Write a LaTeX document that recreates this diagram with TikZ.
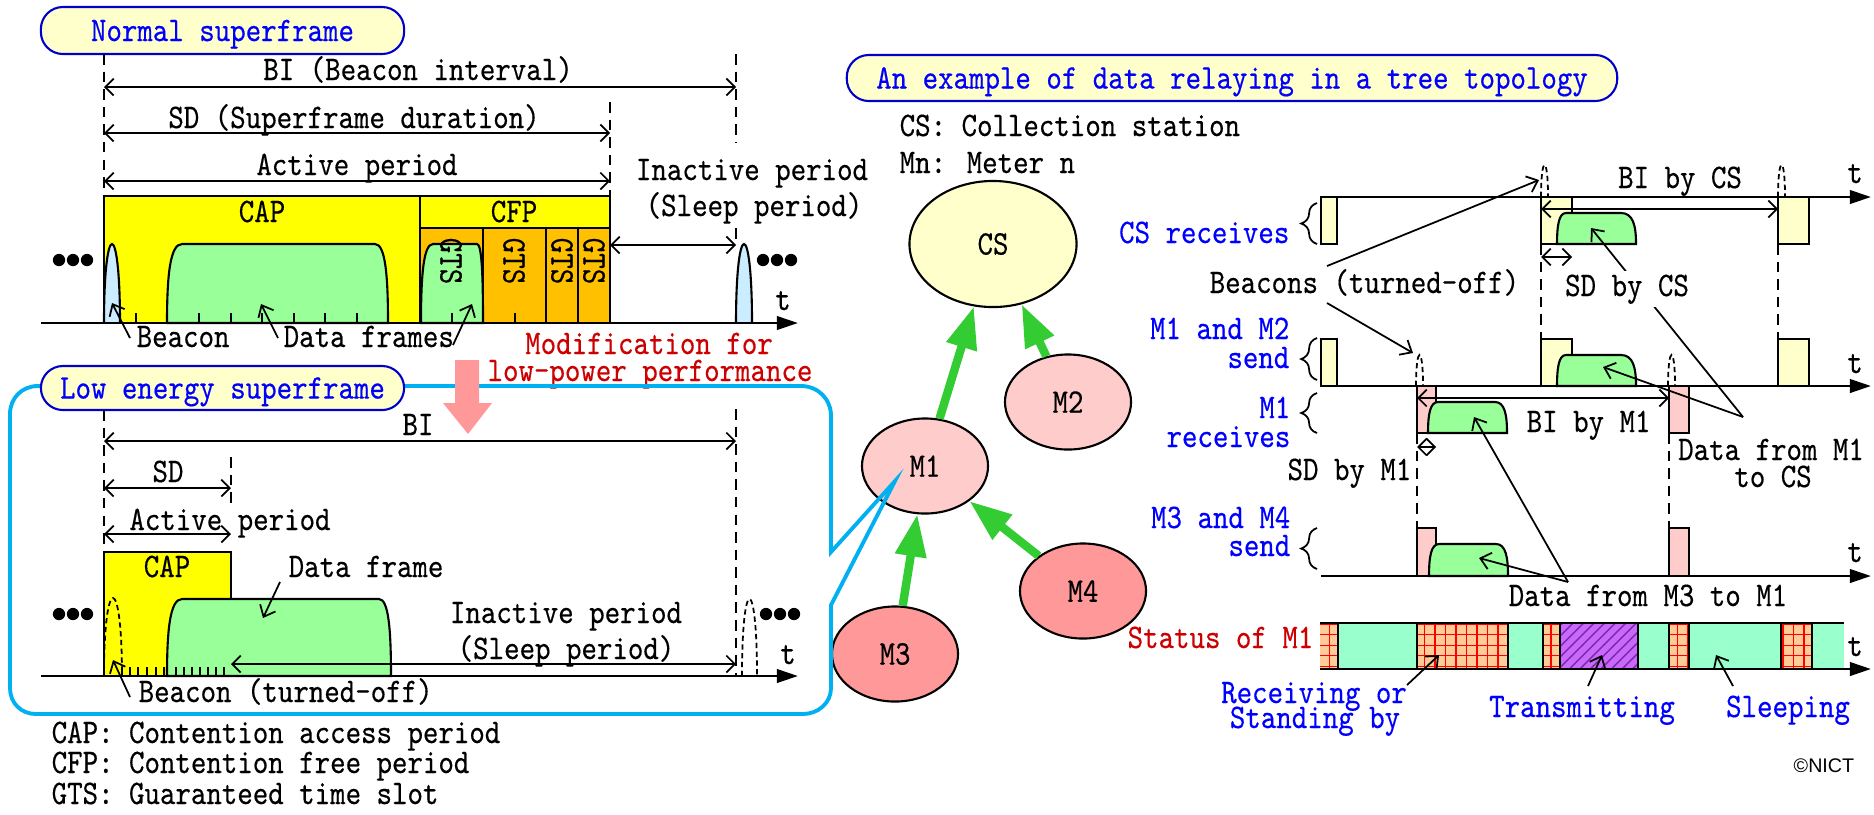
\documentclass[tikz,border=0pt]{standalone}
\usepackage{fontspec}
\newfontfamily\slimtt{lmmono10-regular.otf}[FakeStretch=0.855, FakeBold=0.4]
\newfontfamily\nictfont{Liberation Sans}
\usetikzlibrary{arrows.meta, shapes.geometric, decorations.pathreplacing, patterns}

\definecolor{bubblefill}{HTML}{FFFFCC}
\definecolor{bubbleline}{HTML}{0000CC}
\definecolor{labelblue}{HTML}{0000FF}
\definecolor{labelred}{HTML}{CC0000}
\definecolor{capyellow}{HTML}{FFFF00}
\definecolor{gtsorange}{HTML}{FFC000}
\definecolor{datagreen}{HTML}{99FF99}
\definecolor{beaconblue}{HTML}{CCECFF}
\definecolor{shiftpink}{HTML}{FF9999}
\definecolor{framecyan}{HTML}{00B0F0}
\definecolor{relaygreen}{HTML}{33CC33}
\definecolor{meterpink}{HTML}{FFCCCC}
\definecolor{meterred}{HTML}{FF9999}
\definecolor{listenbase}{HTML}{FFCC99}
\definecolor{sleepcyan}{HTML}{99FFCC}
\definecolor{sendviolet}{HTML}{CC66FF}
\definecolor{sendstripe}{HTML}{7030A0}

\tikzset{
	every node/.style={font=\slimtt\fontsize{9.8}{10}\selectfont, inner sep=0pt}, % narrow mono spaced text
	bubble/.style={draw=bubbleline, fill=bubblefill, line width=0.6pt, rounded corners=2.2mm, text=labelblue, text height=6pt, text depth=0pt}, % yellow titles with round ends
	dim/.style={{Straight Barb[length=2.4pt,width=4.8pt]}-{Straight Barb[length=2.4pt,width=4.8pt]}, line width=0.5pt}, % length arrows
	lead/.style={-{Straight Barb[length=2.8pt,width=4.8pt]}, line width=0.5pt}, % arrows from the labels
	timeaxis/.style={line width=0.8pt, -{Triangle[length=6pt,width=3.8pt]}},
	guide/.style={dash pattern=on 3pt off 2pt, line width=0.5pt},
	ghost/.style={dash pattern=on 1.5pt off 1pt, line width=0.5pt}, % turned-off beacons
	axistick/.style={line width=0.5pt},
	capbox/.style={draw, fill=capyellow, line width=0.6pt},
	gtsbox/.style={draw, fill=gtsorange, line width=0.6pt},
	csbox/.style={draw, fill=bubblefill, line width=0.6pt},
	m1box/.style={draw, fill=meterpink, line width=0.6pt},
	datashape/.style={draw, fill=datagreen, line width=0.6pt},
	beaconshape/.style={draw, fill=beaconblue, line width=0.6pt},
	rowbrace/.style={decorate, decoration={brace, amplitude=4.5pt}, line width=0.5pt},
	meter/.style={ellipse, draw, line width=0.6pt, minimum width=1.26cm, minimum height=0.95cm},
	relay/.style={draw=relaygreen, line width=2.4pt, -{Triangle[length=12pt,width=8.5pt]}},
	listenseg/.style={fill=listenbase, postaction={pattern=grid, pattern color=red}},
	sleepseg/.style={fill=sleepcyan},
	sendseg/.style={fill=sendviolet, postaction={pattern=north east lines, pattern color=sendstripe}},
}

% left, right, top, bottom, left bend, right bend
\newcommand{\dataframe}[6]{\draw[datashape] (#1,#4) .. controls (#1,{#3+0.4*(#4-#3)}) and ({#1+0.2*#5},#3) .. ({#1+#5},#3)
	-- ({#2-#6},#3) .. controls ({#2-0.2*#6},#3) and (#2,{#3+0.4*(#4-#3)}) .. (#2,#4) -- cycle;}
% left, right, top, bottom
\newcommand{\beaconpulse}[5][beaconshape]{\draw[#1] (#2,#5) .. controls (#2,{#5-(#5-#4)/0.75}) and (#3,{#5-(#5-#4)/0.75}) .. (#3,#5);}

\begin{document}
\begin{tikzpicture}[x=0.01cm, y=-0.01cm]
	\useasboundingbox (0,0) rectangle (1874,814);

	\node[bubble, minimum width=3.63cm, minimum height=0.47cm] (normal) at (222.5,30.5) {Normal superframe};
	\draw[guide] (104,54) -- (104,196);
	\draw[guide] (736,54) -- (736,143);
	\draw[guide] (736,228) -- (736,244);
	\draw[guide] (610,102) -- (610,196);
	\draw[dim] (104,87) -- (736,87);
	\node[anchor=base] (bi) at (418,80) {BI (Beacon interval)};
	\draw[dim] (104,133) -- (610,133);
	\node[anchor=base] (sd) at (354,128) {SD (Superframe duration)};
	\draw[dim] (104,181) -- (610,181);
	\node[anchor=base] (active) at (357,175) {Active period};
	\node[anchor=base] (inactive1) at (752,180) {Inactive period};
	\node[anchor=base] (inactive2) at (754,216) {(Sleep period)};
	\draw[capbox] (104,196) rectangle (420,323);
	\draw[capbox] (420,196) rectangle (610,228);
	\foreach \xa/\xb in {420/483,483/546,546/578,578/610} \draw[gtsbox] (\xa,228) rectangle (\xb,323);
	\node[anchor=base] (cap) at (262,222) {CAP};
	\node[anchor=base] (cfp) at (514,222) {CFP};
	\dataframe{167}{388}{244}{323}{15}{13}
	\dataframe{421}{483}{244}{323}{12}{6}
	\foreach \x in {451,514,562,594} \node[rotate=-90] (gts\x) at (\x,261) {GTS};
	\beaconpulse{104}{120}{244}{323}
	\beaconpulse{736}{752}{244}{323}
	\foreach \x in {136,199,231,262,294,325,357,452,515} \draw[axistick] (\x,313) -- (\x,323);
	\draw[dim] (610,245) -- (736,245);
	\draw[timeaxis] (41,323) -- (798,323);
	\node[anchor=base] (tup) at (783,310) {t};
	\foreach \x in {59,73,87,763,777,791} \fill (\x,260) circle (1.75pt);
	\node[anchor=base west] (beacon) at (136,347) {Beacon};
	\node[anchor=base west] (dataframes) at (283,347) {Data frames};
	\coordinate (beacontail) at (130,338);
	\coordinate (beaconhead) at (112,303);
	\coordinate (datatail1) at (278,338);
	\coordinate (datahead1) at (261,304);
	\coordinate (datatail2) at (453,345);
	\coordinate (datahead2) at (472,304);
	\draw[lead] (beacontail) -- (beaconhead);
	\draw[lead] (datatail1) -- (datahead1);
	\draw[lead] (datatail2) -- (datahead2);
	\node[anchor=base, text=labelred] (modif1) at (649,354) {Modification for};
	\node[anchor=base, text=labelred] (modif2) at (650,381) {low-power performance};

	\node[meter, fill=bubblefill, minimum width=1.67cm, minimum height=1.26cm] (cs) at (993,244) {CS};
	\node[meter, fill=meterpink] (m1) at (925,466) {M1};
	\node[meter, fill=meterpink] (m2) at (1068,402) {M2};
	\node[meter, fill=meterred] (m3) at (895,654) {M3};
	\node[meter, fill=meterred] (m4) at (1083,591) {M4};
	\draw[relay] (m1) -- (cs);
	\draw[relay] (m2) -- (cs);
	\draw[relay] (m3) -- (m1);
	\draw[relay] (m4) -- (m1);
	\coordinate (m1tip) at (895,481);

	\draw[framecyan, line width=1.1pt] (404,386) -- (801,386) .. controls (818,386) and (831,399) .. (831,416) -- (831,552) -- (m1tip) -- (831,605)
		-- (831,688) .. controls (831,703) and (818,714) .. (803,714) -- (36,714) .. controls (21,714) and (10,703) .. (10,688)
		-- (10,414) .. controls (10,398) and (22,386) .. (38,386) -- (60,386);
	\node[bubble, minimum width=3.63cm, minimum height=0.44cm] (lowenergy) at (222.5,388) {Low energy superframe};
	\fill[shiftpink] (455,360) -- (479,360) -- (479,403) -- (492,403) -- (468,434) -- (443,403) -- (455,403) -- cycle;

	\draw[guide] (104,410) -- (104,552);
	\draw[guide] (231,457) -- (231,503);
	\draw[guide] (736,409) -- (736,676);
	\draw[dim] (104,441) -- (736,441);
	\node[anchor=base] (lbi) at (418,435) {BI};
	\draw[dim] (104,488) -- (231,488);
	\node[anchor=base] (lsd) at (168,482) {SD};
	\draw[dim] (104,534) -- (231,534);
	\node[anchor=base] (lactive) at (230,530) {Active period};
	\draw[capbox] (104,552) rectangle (231,676);
	\node[anchor=base] (lcap) at (167,577) {CAP};
	\dataframe{167}{391}{599}{676}{15}{12}
	\beaconpulse[ghost]{104}{122}{598}{676}
	\beaconpulse[ghost]{742}{757}{599}{676}
	\foreach \x in {122,130,138,147,156,164,176,184,192,200,208,216,224} \draw[axistick] (\x,667) -- (\x,676);
	\draw[dim] (231,664) -- (736,664);
	\node[anchor=base west] (ldata) at (288,577) {Data frame};
	\node[anchor=base] (linactive1) at (566,623) {Inactive period};
	\node[anchor=base] (linactive2) at (566,659) {(Sleep period)};
	\draw[timeaxis] (41,676) -- (798,676);
	\node[anchor=base] (tlow) at (788,664) {t};
	\foreach \x in {59,73,87,766,780,794} \fill (\x,614) circle (1.75pt);
	\node[anchor=base west] (lbeacon) at (138,702) {Beacon (turned-off)};
	\coordinate (ldatatail) at (280,582);
	\coordinate (ldatahead) at (263,618);
	\coordinate (lbeacontail) at (130,697);
	\coordinate (lbeaconhead) at (113,660);
	\draw[lead] (ldatatail) -- (ldatahead);
	\draw[lead] (lbeacontail) -- (lbeaconhead);
	\node[anchor=base west] (legcap) at (51,743) {CAP: Contention access period};
	\node[anchor=base west] (legcfp) at (51,773) {CFP: Contention free period};
	\node[anchor=base west] (leggts) at (51,804) {GTS: Guaranteed time slot};

	\node[bubble, minimum width=7.70cm, minimum height=0.46cm] (relaytitle) at (1232,78) {An example of data relaying in a tree topology};
	\node[anchor=base west] (legcs) at (899,136) {CS: Collection station};
	\node[anchor=base west] (legmn) at (899,173) {Mn: Meter n};

	\foreach \xa/\xb in {1321/1337,1541/1572,1778/1809} {
		\draw[csbox] (\xa,197) rectangle (\xb,244);
		\draw[csbox] (\xa,339) rectangle (\xb,386);
	}
	\foreach \xa/\xb in {1417/1436,1669/1689} {
		\draw[m1box] (\xa,386) rectangle (\xb,433);
		\draw[m1box] (\xa,528) rectangle (\xb,576);
	}
	\dataframe{1557}{1636}{213}{244}{9}{15}
	\dataframe{1557}{1636}{355}{386}{9}{15}
	\dataframe{1428}{1507}{402}{433}{10}{12}
	\dataframe{1429}{1508}{544}{576}{10}{12}
	\beaconpulse[ghost]{1541}{1548}{165}{197}
	\beaconpulse[ghost]{1778}{1785}{165}{197}
	\beaconpulse[ghost]{1416}{1423}{355}{386}
	\beaconpulse[ghost]{1668}{1675}{355}{386}
	\foreach \x in {1541,1778} \draw[guide] (\x,244) -- (\x,339);
	\foreach \x in {1417,1669} \draw[guide] (\x,433) -- (\x,528);
	\foreach \y in {197,386,576} \draw[timeaxis] (1321,\y) -- (1871,\y);
	\foreach \ya/\yb in {203/244,338/380,393/433,528/569} \draw[rowbrace] (1317,\yb) -- (1317,\ya);
	\draw[dim] (1541,209) -- (1778,209);
	\draw[dim] (1541,257) -- (1572,257);
	\draw[dim] (1417,398) -- (1669,398);
	\draw[dim] (1417,447) -- (1436,447);

	\foreach \xa/\xb in {1320/1338,1417/1508,1543/1560,1669/1689,1781/1812} \fill[listenseg] (\xa,623) rectangle (\xb,669);
	\foreach \xa/\xb in {1338/1417,1508/1543,1638/1669,1689/1781,1812/1844} \fill[sleepseg] (\xa,623) rectangle (\xb,669);
	\fill[sendseg] (1560,623) rectangle (1638,669);
	\foreach \x in {1338,1417,1508,1543,1560,1638,1669,1689,1781,1812} \draw[line width=0.6pt] (\x,623) -- (\x,669);
	\draw[line width=0.8pt] (1320,623) -- (1844,623);
	\draw[timeaxis] (1320,669) -- (1871,669);

	\coordinate (offtail1) at (1327,266);
	\coordinate (offhead1) at (1539,180);
	\coordinate (offtail2) at (1327,303);
	\coordinate (offhead2) at (1413,353);
	\coordinate (m1cstail) at (1743,417);
	\coordinate (m1cshead1) at (1591,228);
	\coordinate (m1cshead2) at (1603,367);
	\coordinate (m3m1tail) at (1568,582);
	\coordinate (m3m1head1) at (1474,417);
	\coordinate (m3m1head2) at (1479,558);
	\coordinate (recvtail) at (1407,685);
	\coordinate (recvhead) at (1439,655);
	\coordinate (transtail) at (1588,686);
	\coordinate (transhead) at (1602,655);
	\coordinate (sleeptail) at (1733,686);
	\coordinate (sleephead) at (1716,655);
	\draw[lead] (offtail1) -- (offhead1);
	\draw[lead] (offtail2) -- (offhead2);
	\draw[lead] (m1cstail) -- (m1cshead1);
	\draw[lead] (m1cstail) -- (m1cshead2);
	\draw[lead] (m3m1tail) -- (m3m1head1);
	\draw[lead] (m3m1tail) -- (m3m1head2);
	\draw[lead] (recvtail) -- (recvhead);
	\draw[lead] (transtail) -- (transhead);
	\draw[lead] (sleeptail) -- (sleephead);

	\node[anchor=base east, text=labelblue] (csrx) at (1290,243) {CS receives};
	\node[anchor=base east, text=labelblue] (m12a) at (1290,339) {M1 and M2};
	\node[anchor=base east, text=labelblue] (m12b) at (1290,368) {send};
	\node[anchor=base east, text=labelblue] (m1rxa) at (1291,418) {M1};
	\node[anchor=base east, text=labelblue] (m1rxb) at (1291,447) {receives};
	\node[anchor=base east, text=labelblue] (m34a) at (1291,528) {M3 and M4};
	\node[anchor=base east, text=labelblue] (m34b) at (1291,556) {send};
	\node[anchor=base east, text=labelred] (status) at (1314,648) {Status of M1};
	\node[anchor=base, text=labelblue] (recv1) at (1314,703) {Receiving or};
	\node[anchor=base, text=labelblue] (recv2) at (1315,728) {Standing by};
	\node[anchor=base, text=labelblue] (trans) at (1582,717) {Transmitting};
	\node[anchor=base, text=labelblue] (sleeping) at (1788,717) {Sleeping};
	\node[anchor=base west] (beacons) at (1209,293) {Beacons (turned-off)};
	\node[anchor=base] (bics) at (1680,188) {BI by CS};
	\node[anchor=base, fill=white, inner sep=1pt] (sdcs) at (1627,296) {SD by CS};
	\node[anchor=base west] (bim1) at (1526,432) {BI by M1};
	\node[anchor=base east] (sdm1) at (1412,480) {SD by M1};
	\node[anchor=base] (m1cs1) at (1771,460) {Data from M1};
	\node[anchor=base] (m1cs2) at (1773,487) {to CS};
	\node[anchor=base west] (m3m1) at (1508,606) {Data from M3 to M1};
	\foreach \y in {183,373,562,656} \node[anchor=base] (t\y) at (1855,\y) {t};
	\node[anchor=base west, font=\nictfont\fontsize{5.6}{6}\selectfont] (nict) at (1793,772) {©NICT};
\end{tikzpicture}
\end{document}
